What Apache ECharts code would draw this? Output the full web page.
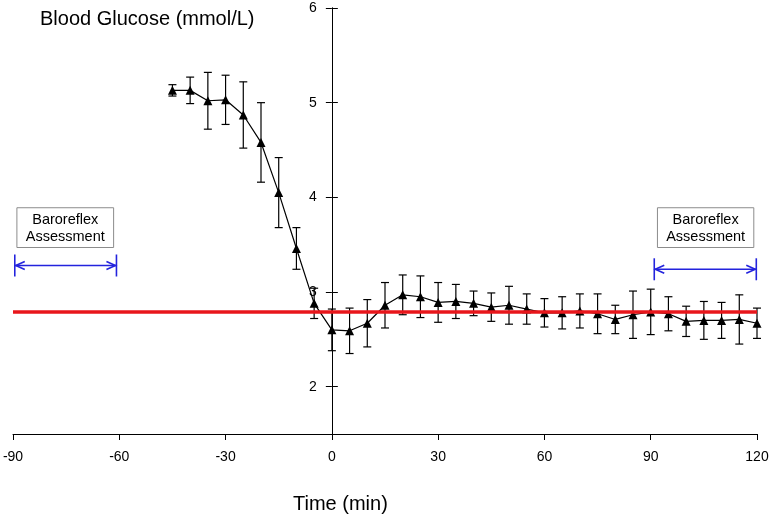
<!DOCTYPE html>
<html>
<head>
<meta charset="utf-8">
<script src="https://cdn.jsdelivr.net/npm/echarts@6/dist/echarts.min.js"></script>
<style>html,body{margin:0;padding:0;background:#fff}#c{width:771px;height:514px}</style>
</head>
<body>
<div id="c"></div>
<script>
// ---- data ----
const times = [-45,-40,-35,-30,-25,-20,-15,-10,-5,0,5,10,15,20,25,30,35,40,45,50,55,60,65,70,75,80,85,90,95,100,105,110,115,120];
const glucose = [5.13,5.13,5.02,5.03,4.87,4.58,4.05,3.46,2.88,2.60,2.59,2.67,2.86,2.97,2.95,2.89,2.90,2.88,2.84,2.86,2.82,2.78,2.78,2.80,2.77,2.71,2.76,2.79,2.77,2.69,2.70,2.70,2.71,2.67];
const sem = [0.06,0.14,0.30,0.26,0.35,0.42,0.37,0.22,0.16,0.22,0.24,0.25,0.24,0.21,0.22,0.21,0.18,0.13,0.15,0.20,0.16,0.15,0.17,0.18,0.21,0.15,0.25,0.24,0.18,0.16,0.20,0.19,0.26,0.16];
const xTicks = [-90,-60,-30,0,30,60,90,120];
const yTicks = [2,3,4,5,6];
const referenceLevel = 2.79;
// annotation periods (data units)
const periodStart = [-89.5, 91.0];
const periodEnd = [-60.8, 119.8];
const arrowLevel = [3.28, 3.24];
const boxStart = [-88.9, 91.9];
const boxEnd = [-61.6, 119.1];
const boxTop = [3.89, 3.89];
const boxBottom = [3.47, 3.47];
const boxLines = ['Baroreflex', 'Assessment'];

const FONT = '"Liberation Sans", Arial, sans-serif';
const meanData = times.map((t, i) => [t, glucose[i]]);
const errData = times.map((t, i) => [t, glucose[i] - sem[i], glucose[i] + sem[i]]);
const annData = periodStart.map((s, i) => [i]);

// layout: the y axis crosses at time 0
const W = 771, gridLeft = 13, gridRight = 14;
const xMin = -90, xMax = 120;
const plotW = W - gridLeft - gridRight;
const zeroPx = (0 - xMin) / (xMax - xMin) * plotW;

const chart = echarts.init(document.getElementById('c'), null, {renderer: 'canvas'});
chart.setOption({
  animation: false,
  backgroundColor: '#fff',
  title: [
    {text: 'Blood Glucose (mmol/L)', left: 35, top: 4, textStyle: {fontFamily: FONT, fontSize: 20, fontWeight: 'normal', color: '#000'}},
    {text: 'Time (min)', left: 288, top: 489, textStyle: {fontFamily: FONT, fontSize: 20, fontWeight: 'normal', color: '#000'}}
  ],
  grid: {left: gridLeft, right: gridRight, top: 8, bottom: 80, containLabel: false, outerBoundsMode: 'none'},
  xAxis: {
    type: 'value', min: xMin, max: xMax, interval: 30,
    axisLine: {show: true, onZero: false, lineStyle: {color: '#000', width: 1}},
    axisTick: {show: true, length: 6, lineStyle: {color: '#000'}},
    axisLabel: {margin: 16, fontSize: 14, fontFamily: FONT, color: '#000', customValues: xTicks},
    splitLine: {show: false}
  },
  yAxis: [
    {
      type: 'value', min: 1.5, max: 6, position: 'left', offset: -zeroPx,
      axisLine: {show: true, onZero: false, lineStyle: {color: '#000', width: 1}},
      axisTick: {show: true, length: 6, customValues: yTicks, lineStyle: {color: '#000'}},
      axisLabel: {margin: 15, fontSize: 14, fontFamily: FONT, color: '#000', customValues: yTicks},
      splitLine: {show: false}
    },
    {
      type: 'value', min: 1.5, max: 6, position: 'right', offset: -(plotW - zeroPx),
      axisLine: {show: true, onZero: false, lineStyle: {color: '#000', width: 1}},
      axisTick: {show: true, length: 6, customValues: yTicks, lineStyle: {color: '#000'}},
      axisLabel: {show: false, customValues: yTicks},
      splitLine: {show: false}
    }
  ],
  series: [
    {
      type: 'custom', name: 'sem', data: errData, z: 3,
      renderItem: function (params, api) {
        const x = api.value(0);
        const lo = api.coord([x, api.value(1)]);
        const hi = api.coord([x, api.value(2)]);
        const w = 4;
        const st = {stroke: '#000', lineWidth: 1.2};
        return {type: 'group', children: [
          {type: 'line', shape: {x1: lo[0], y1: lo[1], x2: hi[0], y2: hi[1]}, style: st},
          {type: 'line', shape: {x1: lo[0] - w, y1: lo[1], x2: lo[0] + w, y2: lo[1]}, style: st},
          {type: 'line', shape: {x1: hi[0] - w, y1: hi[1], x2: hi[0] + w, y2: hi[1]}, style: st}
        ]};
      }
    },
    {
      type: 'line', name: 'glucose', data: meanData, z: 4,
      symbol: 'triangle', symbolSize: 9,
      itemStyle: {color: '#000'},
      lineStyle: {color: '#000', width: 1.2}
    },
    {
      type: 'line', name: 'ref', data: [], z: 6,
      markLine: {
        silent: true, symbol: 'none', label: {show: false},
        lineStyle: {color: '#e8161b', width: 3.5, type: 'solid'},
        data: [{yAxis: referenceLevel}]
      }
    },
    {
      type: 'custom', name: 'annot', data: annData, z: 7,
      renderItem: function (params, api) {
        const i = api.value(0);
        const blue = '#2323dd';
        const a = api.coord([periodStart[i], arrowLevel[i]]);
        const b = api.coord([periodEnd[i], arrowLevel[i]]);
        const bt = api.coord([boxStart[i], boxTop[i]]);
        const bb = api.coord([boxEnd[i], boxBottom[i]]);
        const h = 11, al = 10, aw = 4;
        const st = {stroke: blue, lineWidth: 1.6, fill: null};
        const cx = (bt[0] + bb[0]) / 2, cy = (bt[1] + bb[1]) / 2;
        return {type: 'group', children: [
          {type: 'rect', shape: {x: bt[0], y: bt[1], width: bb[0] - bt[0], height: bb[1] - bt[1]}, style: {fill: '#fff', stroke: '#8c8c8c', lineWidth: 1}},
          {type: 'text', style: {text: boxLines[0], x: cx, y: cy - 8, align: 'center', verticalAlign: 'middle', font: '14.5px ' + FONT, fill: '#000'}},
          {type: 'text', style: {text: boxLines[1], x: cx, y: cy + 9, align: 'center', verticalAlign: 'middle', font: '14.5px ' + FONT, fill: '#000'}},
          {type: 'line', shape: {x1: a[0], y1: a[1], x2: b[0], y2: b[1]}, style: st},
          {type: 'line', shape: {x1: a[0], y1: a[1] - h, x2: a[0], y2: a[1] + h}, style: st},
          {type: 'line', shape: {x1: b[0], y1: b[1] - h, x2: b[0], y2: b[1] + h}, style: st},
          {type: 'polyline', shape: {points: [[a[0] + al, a[1] - aw], [a[0] + 1, a[1]], [a[0] + al, a[1] + aw]]}, style: st},
          {type: 'polyline', shape: {points: [[b[0] - al, b[1] - aw], [b[0] - 1, b[1]], [b[0] - al, b[1] + aw]]}, style: st}
        ]};
      }
    }
  ]
});
</script>
</body>
</html>
